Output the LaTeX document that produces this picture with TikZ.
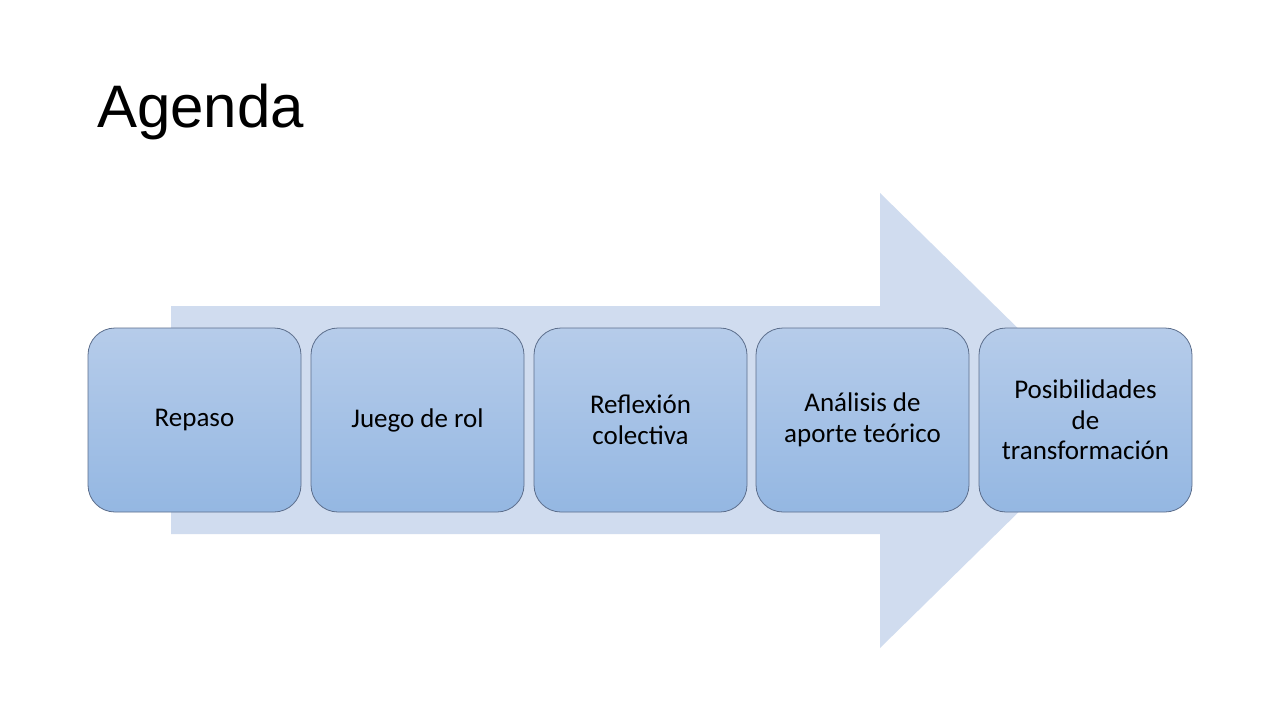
\documentclass[tikz,border=0pt]{standalone}
\usepackage{fontspec}
\setmainfont{Carlito}
\newfontfamily\titlefont{Liberation Sans}
\definecolor{arrowblue}{RGB}{208,220,239}
\definecolor{boxtop}{RGB}{182,204,234}
\definecolor{boxbot}{RGB}{148,183,226}
\definecolor{boxline}{RGB}{92,110,140}
\begin{document}
\begin{tikzpicture}[x=1pt,y=-1pt,
  stagebox/.style={draw=boxline, line width=0.8pt, rounded corners=27pt,
    top color=boxtop, bottom color=boxbot,
    minimum width=213pt, minimum height=184pt, inner sep=4pt,
    align=center, text=black,
    font=\fontsize{27}{30.5}\selectfont}]
\useasboundingbox (0,0) rectangle (1280,720);
\fill[white] (0,0) rectangle (1280,720);
% big background arrow
\fill[arrowblue] (171,306) -- (880,306) -- (880,193) -- (1112,420.5)
  -- (880,648) -- (880,534) -- (171,534) -- cycle;
% title
\node[anchor=base west, inner sep=0pt, font=\titlefont\fontsize{60}{72}\selectfont] (title) at (97,127) {Agenda};
% stages
\node[stagebox] (s1) at (194.5,420) {Repaso};
\node[stagebox] (s2) at (417.5,420) {Juego de rol};
\node[stagebox] (s3) at (640.5,420) {Reflexión\\colectiva};
\node[stagebox] (s4) at (862.5,420) {Análisis de\\aporte teórico};
\node[stagebox] (s5) at (1085.5,420) {Posibilidades\\de\\transformación};
\end{tikzpicture}
\end{document}
